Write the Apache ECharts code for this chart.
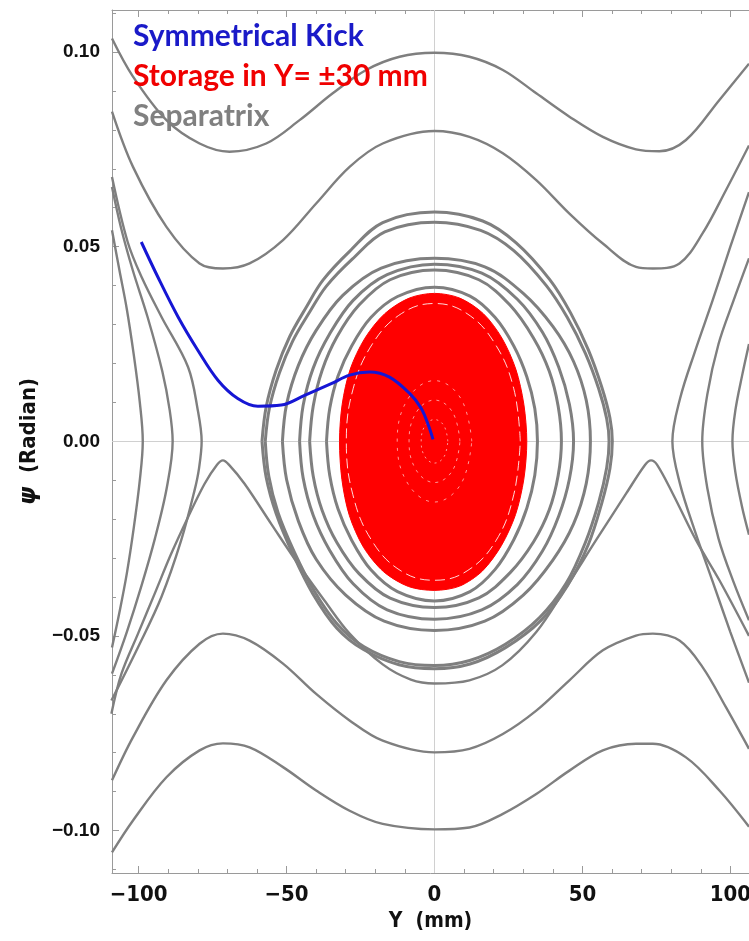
<!DOCTYPE html>
<html>
<head>
<meta charset="utf-8">
<script src="https://cdn.jsdelivr.net/npm/echarts@6/dist/echarts.min.js"></script>
<style>
  html, body { margin: 0; padding: 0; background: #fff; }
  #chart { width: 749px; height: 941px; }
</style>
</head>
<body>
<div id="chart"></div>
<script>
// ---- tick values ----
const xLabelValues = [-100, -50, 0, 50, 100];
const xMinorValues = [-100, -90, -80, -70, -60, -50, -40, -30, -20, -10, 0, 10, 20, 30, 40, 50, 60, 70, 80, 90, 100];
const yLabelValues = [-0.1, -0.05, 0, 0.05, 0.1];
const yMinorValues = [-0.11, -0.1, -0.09, -0.08, -0.07, -0.06, -0.05, -0.04, -0.03, -0.02, -0.01, 0,
  0.01, 0.02, 0.03, 0.04, 0.05, 0.06, 0.07, 0.08, 0.09, 0.1, 0.11];

// ---- open orbits that run across the whole plot ----
const waveTop = [[-109, 0.1035], [-101.9, 0.0937], [-90.6, 0.0825], [-79.4, 0.0765], [-69.3, 0.0744], [-56.9, 0.0765],
  [-45.6, 0.0825], [-34.4, 0.0894], [-23.1, 0.0954], [-11.8, 0.0988], [0, 0.0998], [11.8, 0.0988], [23.1, 0.0954],
  [34.4, 0.0894], [45.6, 0.0834], [56.9, 0.0782], [68.1, 0.075], [76, 0.0745], [85, 0.0774], [96.3, 0.0877], [106.3, 0.0970]];
const waveSecond = [[-109, 0.0847], [-101.9, 0.0705], [-90.6, 0.0551], [-79.4, 0.0457], [-71.5, 0.0444], [-62.5, 0.0457],
  [-51.2, 0.0517], [-40, 0.0611], [-28.7, 0.0705], [-17.5, 0.0765], [0, 0.0797], [11.8, 0.0782], [23.1, 0.074],
  [34.4, 0.0671], [45.6, 0.0585], [56.9, 0.0508], [68.1, 0.0448], [73.8, 0.0444], [82.8, 0.0457], [90.6, 0.0534],
  [98.5, 0.0645], [106.3, 0.0760]];
const waveLower = [[-109, -0.0871], [-101.9, -0.076], [-90.6, -0.0614], [-79.4, -0.052], [-71.5, -0.0494], [-62.5, -0.0512],
  [-51.2, -0.0571], [-40, -0.0649], [-28.7, -0.0717], [-17.5, -0.0769], [0, -0.0799], [11.8, -0.079], [23.1, -0.0752],
  [34.4, -0.0692], [45.6, -0.0614], [56.9, -0.0537], [68.1, -0.0499], [73.8, -0.0494], [82.8, -0.0512], [90.6, -0.058],
  [98.5, -0.0683], [106.3, -0.0790]];
const waveBottom = [[-109, -0.1056], [-101.9, -0.0974], [-90.6, -0.0863], [-79.4, -0.0794], [-71.5, -0.0776], [-62.5, -0.0786],
  [-51.2, -0.0837], [-40, -0.0897], [-28.7, -0.0949], [-17.5, -0.0983], [0, -0.0997], [11.8, -0.0992], [23.1, -0.0957],
  [34.4, -0.0906], [45.6, -0.0846], [56.9, -0.0794], [68.1, -0.0777], [73.8, -0.0777], [85, -0.0812], [96.3, -0.0897],
  [106.3, -0.0990]];

// ---- orbits outside the separatrix, left and right ----
const leftOuter1 = [[-109, 0.0542], [-106.5, 0.044], [-104, 0.034], [-101.6, 0.022], [-99.6, 0.010], [-98.6, 0],
  [-99.6, -0.010], [-101.6, -0.022], [-104, -0.034], [-106.5, -0.044], [-109, -0.053]];
const leftOuter2 = [[-109, 0.0653], [-106, 0.055], [-102, 0.044], [-97, 0.032], [-92, 0.018], [-89.5, 0.008], [-88.5, 0],
  [-90.5, -0.012], [-94.5, -0.025], [-99, -0.037], [-104, -0.049], [-109, -0.0597]];
const leftOuter3 = [[-109, 0.0679], [-103.7, 0.0512], [-99, 0.0422], [-92.3, 0.032], [-83.3, 0.0191], [-80, 0.008],
  [-78.7, 0], [-79.6, -0.007], [-81.1, -0.0126], [-85.6, -0.0254], [-92.3, -0.040], [-100.2, -0.0529], [-109.2, -0.0666]];
const rightOuter1 = [[106.3, 0.025], [104, 0.017], [101.7, 0.008], [100.7, 0], [101.7, -0.008], [104, -0.017], [106.3, -0.024]];
const rightOuter2 = [[106.3, 0.047], [101, 0.036], [96, 0.025], [92.2, 0.012], [90.5, 0], [92.2, -0.012], [96, -0.025],
  [101, -0.036], [106.3, -0.046]];
const rightOuter3 = [[106.3, 0.064], [100, 0.050], [94, 0.0362], [88, 0.023], [83, 0.011], [80.4, 0], [83, -0.011],
  [88, -0.023], [94, -0.036], [100, -0.049], [106.3, -0.062]];

// lower orbit touching both X points
const lowerSep = [[-109.2, -0.0700], [-105.8, -0.0597], [-100.2, -0.0494], [-94.6, -0.0392], [-89, -0.0289], [-83.3, -0.0195],
  [-77.7, -0.0109], [-73.5, -0.0060], [-71.5, -0.0049], [-69.5, -0.006], [-64.2, -0.0109], [-55.2, -0.0212],
  [-46.2, -0.0314], [-37.2, -0.0409], [-28.7, -0.0494], [-17.5, -0.0573], [-8, -0.0612], [0, -0.0622], [11.8, -0.0614],
  [23, -0.0575], [34.4, -0.049], [44.5, -0.0375], [54.6, -0.0254], [64.8, -0.0134], [71.2, -0.006], [73.2, -0.0049],
  [75.2, -0.006], [80.5, -0.0134], [88.4, -0.0254], [96.3, -0.0357], [106.3, -0.0500]];

// ---- closed orbits round the centre ----
const ring1a = [[-58.3, 0], [-56.9, 0.0088], [-53.5, 0.0183], [-49, 0.0268], [-43.3, 0.0345], [-37.7, 0.0414], [-28.7, 0.0488],
  [-17.5, 0.0562], [0, 0.0589], [16.3, 0.0566], [27.6, 0.051], [38.9, 0.0416], [46, 0.033], [52, 0.0235], [56.5, 0.014],
  [59.3, 0.006], [60.1, 0], [59.3, -0.007], [56.5, -0.016], [52, -0.0265], [45, -0.037], [36, -0.046], [24, -0.053],
  [12, -0.0572], [0, -0.0584], [-12, -0.0574], [-24, -0.0535], [-33, -0.048], [-41.1, -0.0392], [-47.9, -0.0289],
  [-53.5, -0.0186], [-56.9, -0.0092], [-58.3, 0]];
const ring1b = [[-57.2, 0], [-55.8, 0.0085], [-52.4, 0.0176], [-47.9, 0.0258], [-42.2, 0.0332], [-36.6, 0.0398], [-27.8, 0.0468],
  [-16.8, 0.0538], [0, 0.0563], [15.6, 0.0542], [26.8, 0.049], [37.8, 0.04], [44.9, 0.0318], [51, 0.0226], [55.5, 0.0135],
  [58.2, 0.0058], [59, 0], [58.2, -0.0068], [55.5, -0.0157], [51, -0.026], [44.5, -0.0365], [35.6, -0.0452], [23.8, -0.0522],
  [11.9, -0.0563], [0, -0.0576], [-11.9, -0.0566], [-23.8, -0.0528], [-32.6, -0.0472], [-40.6, -0.0385], [-47.4, -0.0284],
  [-52.9, -0.0183], [-56, -0.009], [-57.2, 0]];
const ring2a = [[-51.4, 0], [-50, 0.0095], [-46, 0.0195], [-40, 0.0285], [-31, 0.0375], [-18, 0.0445], [0, 0.047], [17, 0.0448],
  [30, 0.038], [40, 0.0295], [47, 0.0205], [51.3, 0.0105], [52.7, 0], [51.3, -0.0108], [47, -0.0212], [40, -0.0305],
  [30, -0.0395], [17, -0.0462], [0, -0.0486], [-17, -0.0462], [-30, -0.0395], [-40, -0.0303], [-46, -0.0205],
  [-50, -0.0098], [-51.4, 0]];
const ring2b = [[-45.6, 0], [-44.4, 0.0092], [-41, 0.0188], [-35.5, 0.0275], [-27.5, 0.0362], [-16, 0.0428], [0, 0.0455],
  [16, 0.0432], [28, 0.0365], [36.5, 0.028], [42, 0.019], [45.6, 0.0095], [47, 0], [45.6, -0.0097], [42, -0.0192],
  [36.5, -0.0282], [28, -0.0368], [16, -0.0433], [0, -0.0457], [-16, -0.0433], [-27.5, -0.0366], [-35.5, -0.0279],
  [-41, -0.019], [-44.4, -0.0094], [-45.6, 0]];
const ring2c = [[-42.2, 0], [-41, 0.009], [-38, 0.0182], [-33, 0.0268], [-25.5, 0.035], [-15, 0.0415], [0, 0.044], [15, 0.0415],
  [25.5, 0.035], [33.5, 0.0265], [38.8, 0.018], [41.8, 0.009], [42.9, 0], [41.8, -0.0088], [38.8, -0.0176], [33.5, -0.0258],
  [25.5, -0.0338], [15, -0.0402], [0, -0.0427], [-15, -0.0403], [-25.5, -0.034], [-33, -0.026], [-38, -0.0177],
  [-41, -0.0089], [-42.2, 0]];
const ring3 = [[-36.5, 0], [-35.4, 0.0085], [-32.6, 0.0168], [-28, 0.0245], [-21.5, 0.0318], [-12.5, 0.0372], [0, 0.0396],
  [12, 0.0373], [20.5, 0.0318], [26.8, 0.0245], [31.2, 0.0166], [33.9, 0.0084], [34.8, 0], [33.9, -0.0087], [31.2, -0.0172],
  [26.8, -0.0253], [20.5, -0.0329], [12, -0.0386], [0, -0.041], [-12.5, -0.0386], [-21.5, -0.033], [-28, -0.0254],
  [-32.6, -0.0174], [-35.4, -0.0088], [-36.5, 0]];

// ---- stored beam (red) and kicked trajectory (blue) ----
const storageEdge = [[31.2, 0], [30.2, 0.0095], [27.5, 0.0185], [22.8, 0.0265], [16.5, 0.0328], [8.5, 0.0368], [0, 0.038],
  [-8.5, 0.0368], [-16.8, 0.0328], [-23.5, 0.0265], [-28.5, 0.0185], [-31.2, 0.0095], [-32.1, 0], [-31.3, -0.0098],
  [-28.8, -0.019], [-24, -0.0272], [-17.2, -0.0335], [-8.8, -0.0373], [0, -0.0383], [8.5, -0.0372], [16.2, -0.0333],
  [22.6, -0.0268], [27.4, -0.0188], [30.2, -0.0097]];
// pale streaks inside the stored region
const storageStreak = [[29, 0], [26.8, 0.0135], [20.5, 0.025], [11, 0.0328], [0, 0.0354], [-11.2, 0.0328], [-21, 0.025],
  [-27.5, 0.0135], [-29.8, 0], [-27.6, -0.0137], [-21.2, -0.0255], [-11.3, -0.0333], [0, -0.0357], [11, -0.0333],
  [20.8, -0.0255], [26.8, -0.0137], [29, 0]];
const coreRing1 = [[4.5, 0], [3.2, 0.004], [0, 0.0056], [-3.2, 0.004], [-4.5, 0], [-3.2, -0.004], [0, -0.0056], [3.2, -0.004], [4.5, 0]];
const coreRing2 = [[8.6, 0], [6.1, 0.0075], [0, 0.0106], [-6.1, 0.0075], [-8.6, 0], [-6.1, -0.0075], [0, -0.0106], [6.1, -0.0075], [8.6, 0]];
const coreRing3 = [[12.6, 0], [8.9, 0.011], [0, 0.0156], [-8.9, 0.011], [-12.6, 0], [-8.9, -0.011], [0, -0.0156], [8.9, -0.011], [12.6, 0]];

const kickPath = [[-99.1, 0.0512], [-93.5, 0.0422], [-86.7, 0.032], [-80, 0.0234], [-73.2, 0.0157], [-66.5, 0.011],
  [-59.7, 0.009], [-51.8, 0.0093], [-43.9, 0.0118], [-34.9, 0.0148], [-28.7, 0.017], [-22, 0.0178], [-15.2, 0.0165],
  [-8.4, 0.0123], [-4.5, 0.0085], [-2, 0.004], [-0.5, 0.0005]];

const chart = echarts.init(document.getElementById('chart'), null, { renderer: 'canvas', devicePixelRatio: 1 });

const GRAY = '#7f7f7f';
const X_MIN = -109, X_MAX = 106.3, Y_MIN = -0.1109, Y_MAX = 0.1108;
const NARROW = '"Liberation Sans Narrow", "DejaVu Sans Condensed", sans-serif';

function minusFmt(v, digits) {
  const s = digits ? Math.abs(v).toFixed(digits) : String(Math.abs(v));
  return (v < 0 ? '\u2212' : '') + s;
}

// one gray orbit
function orbit(data, width) {
  return {
    name: 'Separatrix',
    type: 'line',
    data: data,
    smooth: 0.35,
    symbol: 'none',
    silent: true,
    z: 2,
    lineStyle: { color: GRAY, width: width || 2.4 }
  };
}

// white dotted traces drawn over the red area
function streak(data, dash, width, alpha) {
  return {
    name: 'Storage in Y= \u00b130 mm',
    type: 'line',
    data: data,
    smooth: 0.4,
    symbol: 'none',
    silent: true,
    z: 4,
    lineStyle: { color: '#fff', width: width, type: dash, opacity: alpha }
  };
}

function tickAxis(pos, values, len, showLine) {
  return {
    type: 'value', position: pos, min: X_MIN, max: X_MAX,
    axisLine: { show: showLine, onZero: false, lineStyle: { color: '#9a9a9a', width: 1 } },
    axisTick: { show: true, inside: true, length: len, customValues: values, lineStyle: { color: '#9a9a9a' } },
    axisLabel: { show: false },
    splitLine: { show: false }
  };
}

const grayOrbits = [waveTop, waveSecond, waveLower, waveBottom, leftOuter1, leftOuter2, leftOuter3,
  rightOuter1, rightOuter2, rightOuter3, lowerSep].map((d) => orbit(d, 2.4));
const grayRings = [ring1a, ring1b, ring2a, ring2b, ring2c, ring3].map((d) => orbit(d, 3));

// zero lines hang on the first orbit
grayOrbits[0].markLine = {
  silent: true,
  symbol: 'none',
  label: { show: false },
  lineStyle: { color: '#d0d0d0', width: 1, type: 'solid' },
  data: [{ xAxis: 0 }, { yAxis: 0 }],
  z: 1
};

const option = {
  backgroundColor: '#fff',
  animation: false,
  grid: { left: 112, right: 0, top: 10, bottom: 68, outerBoundsMode: 'none' },
  legend: {
    left: 122,
    top: 15,
    orient: 'vertical',
    itemWidth: 0,
    itemHeight: 0,
    itemGap: 8,
    selectedMode: false,
    textStyle: { fontFamily: 'Lato, "Open Sans", sans-serif', fontWeight: 'bold', fontSize: 30, lineHeight: 32 },
    data: [
      { name: 'Symmetrical Kick', textStyle: { color: '#1a1ac8' } },
      { name: 'Storage in Y= \u00b130 mm', textStyle: { color: '#f00000' } },
      { name: 'Separatrix', textStyle: { color: '#808080' } }
    ]
  },
  xAxis: [
    {
      type: 'value', position: 'bottom', min: X_MIN, max: X_MAX,
      axisLine: { show: true, onZero: false, lineStyle: { color: '#9a9a9a', width: 1 } },
      axisTick: { show: true, inside: true, length: 7, customValues: xLabelValues, lineStyle: { color: '#9a9a9a' } },
      axisLabel: {
        customValues: xLabelValues,
        margin: 11,
        color: '#111',
        fontFamily: NARROW,
        fontWeight: 'bold',
        fontSize: 22,
        formatter: (v) => minusFmt(v, 0)
      },
      splitLine: { show: false },
      name: 'Y  (mm)',
      nameLocation: 'middle',
      nameGap: 34,
      nameTextStyle: { color: '#111', fontFamily: NARROW, fontWeight: 'bold', fontSize: 21 }
    },
    tickAxis('bottom', xMinorValues, 4, false),
    tickAxis('top', xLabelValues, 7, true),
    tickAxis('top', xMinorValues, 4, false)
  ],
  yAxis: [
    {
      type: 'value', position: 'left', min: Y_MIN, max: Y_MAX,
      axisLine: { show: true, onZero: false, lineStyle: { color: '#9a9a9a', width: 1 } },
      axisTick: { show: true, inside: true, length: 7, customValues: yLabelValues, lineStyle: { color: '#9a9a9a' } },
      axisLabel: {
        customValues: yLabelValues,
        margin: 12,
        color: '#111',
        fontFamily: '"Liberation Sans", Arial, sans-serif',
        fontWeight: 'bold',
        fontSize: 19,
        formatter: (v) => minusFmt(v, 2)
      },
      splitLine: { show: false },
      name: '{psi|\u03c8}  (Radian)',
      nameLocation: 'middle',
      nameRotate: 90,
      nameGap: 68,
      nameTextStyle: {
        color: '#111', fontFamily: NARROW, fontWeight: 'bold', fontSize: 22,
        rich: { psi: { fontStyle: 'italic', fontWeight: 'bold', fontSize: 23, fontFamily: '"DejaVu Sans", sans-serif' } }
      }
    },
    {
      type: 'value', position: 'left', min: Y_MIN, max: Y_MAX,
      axisLine: { show: false, onZero: false },
      axisTick: { show: true, inside: true, length: 4, customValues: yMinorValues, lineStyle: { color: '#9a9a9a' } },
      axisLabel: { show: false },
      splitLine: { show: false }
    }
  ],
  series: [
    ...grayOrbits,
    ...grayRings,
    {
      name: 'Storage in Y= \u00b130 mm',
      type: 'custom',
      silent: true,
      z: 3,
      data: [[0, 0]],
      renderItem: function (params, api) {
        const pts = storageEdge.map((p) => api.coord(p));
        return {
          type: 'polygon',
          shape: { points: pts, smooth: 0.3 },
          style: { fill: '#ff0000', stroke: '#ff0000', lineWidth: 1 }
        };
      }
    },
    streak(storageStreak, [10, 5], 1, 0.85),
    streak(coreRing1, [2, 4], 1, 0.6),
    streak(coreRing2, [3, 5], 1, 0.6),
    streak(coreRing3, [3, 6], 1, 0.6),
    {
      name: 'Symmetrical Kick',
      type: 'line',
      data: kickPath,
      smooth: 0.35,
      symbol: 'none',
      silent: true,
      z: 5,
      lineStyle: { color: '#1616d4', width: 3 }
    }
  ]
};

chart.setOption(option);
</script>
</body>
</html>
